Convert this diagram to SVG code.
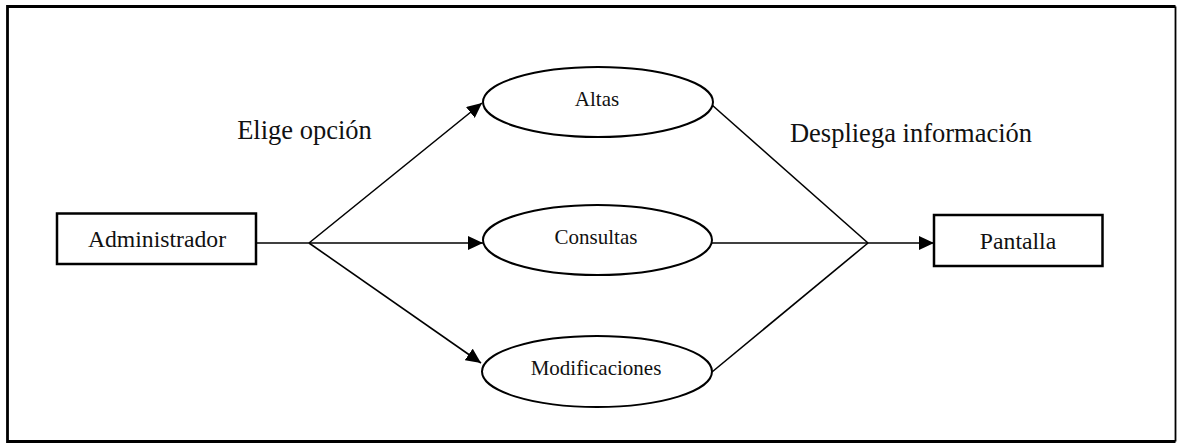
<svg xmlns="http://www.w3.org/2000/svg" width="1178" height="446" viewBox="0 0 1178 446">
  <style>
    .frame { fill: none; stroke: #000; }
    .box { fill: #fff; stroke: #000; stroke-width: 2.5; }
    .proc { fill: #fff; stroke: #000; stroke-width: 2; }
    .wire { fill: none; stroke: #000; stroke-width: 1.6; }
    .t { font-family: "Liberation Serif", "Times New Roman", serif; fill: #111; text-anchor: middle; }
    .tbox { font-size: 23.7px; }
    .tproc { font-size: 21px; }
    .tlabel { font-size: 26.5px; }
  </style>
  <defs>
    <marker id="arrow" markerUnits="userSpaceOnUse" markerWidth="15" markerHeight="14" refX="15" refY="7" orient="auto">
      <path d="M0,0 L15,7 L0,14 Z" fill="#000"/>
    </marker>
  </defs>

  <!-- page frame: heavier top, left and bottom edges, lighter right edge -->
  <rect x="0" y="0" width="1178" height="446" fill="#fff"/>
  <path class="frame" stroke-width="2.8" d="M1175.5,6.5 L7.5,6.5 L7.5,441.5 L1175.5,441.5"/>
  <line class="frame" stroke-width="1.8" x1="1175.5" y1="6.5" x2="1175.5" y2="441.5"/>

  <g id="connectors">
    <!-- Administrador to the fork point -->
    <line class="wire" x1="256" y1="243" x2="309" y2="243"/>
    <!-- fork to the three processes -->
    <line class="wire" x1="309" y1="243" x2="482" y2="103" marker-end="url(#arrow)"/>
    <line class="wire" x1="309" y1="243" x2="483" y2="243" marker-end="url(#arrow)"/>
    <line class="wire" x1="309" y1="243" x2="481" y2="363" marker-end="url(#arrow)"/>
    <!-- processes merge into Pantalla -->
    <line class="wire" x1="712" y1="105" x2="868" y2="243"/>
    <line class="wire" x1="712" y1="243" x2="868" y2="243"/>
    <line class="wire" x1="712" y1="372" x2="868" y2="243"/>
    <line class="wire" x1="868" y1="243" x2="934" y2="243" marker-end="url(#arrow)"/>
  </g>

  <g id="label-elige">
    <text class="t tlabel" x="304.5" y="139">Elige opción</text>
  </g>
  <g id="label-despliega">
    <text class="t tlabel" x="911" y="142">Despliega información</text>
  </g>

  <g id="node-administrador">
    <rect class="box" x="57" y="213.5" width="199" height="50.5"/>
    <text class="t tbox" x="157" y="247">Administrador</text>
  </g>

  <g id="node-altas">
    <ellipse class="proc" cx="598" cy="102" rx="115" ry="35"/>
    <text class="t tproc" x="597" y="106">Altas</text>
  </g>

  <g id="node-consultas">
    <ellipse class="proc" cx="597.5" cy="240" rx="114.5" ry="35"/>
    <text class="t tproc" x="596" y="244">Consultas</text>
  </g>

  <g id="node-modificaciones">
    <ellipse class="proc" cx="597" cy="371.5" rx="115" ry="35.5"/>
    <text class="t tproc" x="596" y="375">Modificaciones</text>
  </g>

  <g id="node-pantalla">
    <rect class="box" x="934" y="215" width="168.5" height="51"/>
    <text class="t tbox" x="1018" y="249">Pantalla</text>
  </g>
</svg>
